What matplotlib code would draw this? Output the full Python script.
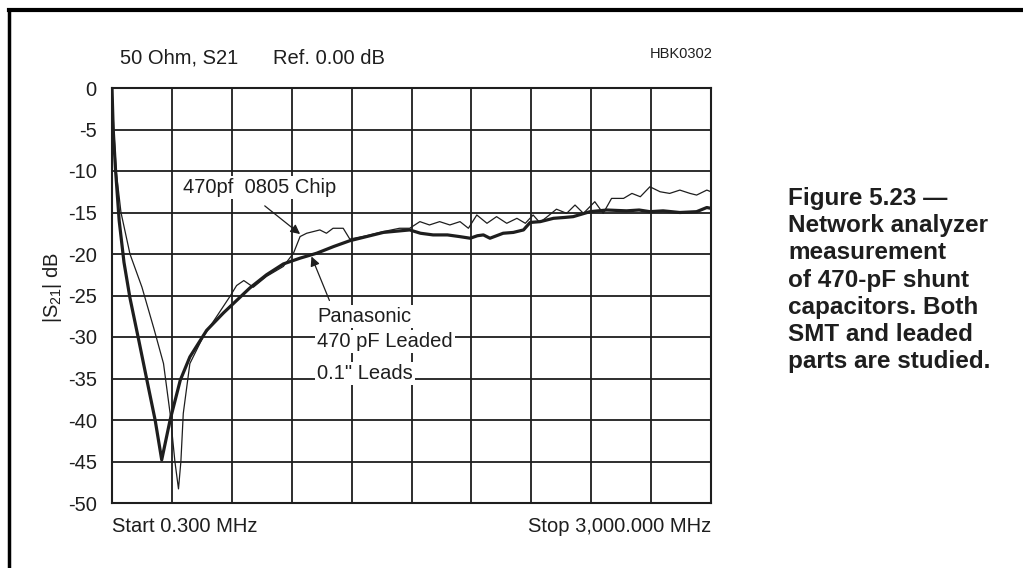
import numpy as np
import matplotlib
matplotlib.use("Agg")
import matplotlib.pyplot as plt
from matplotlib.lines import Line2D

plt.rcParams['font.family'] = ['Liberation Sans', 'DejaVu Sans']
plt.rcParams['mathtext.fontset'] = 'custom'
plt.rcParams['mathtext.rm'] = 'Liberation Sans'
plt.rcParams['mathtext.it'] = 'Liberation Sans'

# ---------------- data (frequency in MHz, |S21| in dB) ----------------
leaded_div = [0, 0.02, 0.06, 0.12, 0.2, 0.3, 0.45, 0.6, 0.72, 0.83, 0.97, 1.14, 1.3,
              1.58, 1.86, 2.3, 2.58, 2.86, 3.14, 3.42, 3.7, 3.97, 4.25, 4.53, 4.97,
              5.15, 5.36, 5.6, 5.8, 5.98, 6.1, 6.2, 6.31, 6.42, 6.53, 6.7, 6.87, 6.98,
              7.15, 7.37, 7.55, 7.7, 7.98, 8.26, 8.59, 8.8, 8.98, 9.2, 9.48, 9.76, 9.93, 10]
leaded_db = [0, -5, -10, -16, -21, -25.3, -30.5, -35.8, -40, -44.8, -40, -35.2, -32.4,
             -29.2, -27.1, -24.1, -22.5, -21.2, -20.5, -19.9, -19.1, -18.4, -17.9, -17.4, -17.1,
             -17.5, -17.7, -17.7, -17.9, -18.1, -17.8, -17.7, -18.1, -17.8, -17.5, -17.4, -17.1, -16.2,
             -16.1, -15.7, -15.6, -15.5, -14.9, -14.7, -14.8, -14.7, -14.9, -14.8, -15.0, -14.9, -14.4, -14.5]

chip_div = [0, 0.03, 0.07, 0.15, 0.3, 0.5, 0.7, 0.86, 0.97, 1.05, 1.11, 1.15, 1.19, 1.3,
            1.52, 1.75, 1.97, 2.08, 2.2, 2.36, 2.58, 2.86, 3.03, 3.14, 3.25, 3.36, 3.47,
            3.58, 3.69, 3.86, 3.97, 4.25, 4.53, 4.8, 4.97, 5.14, 5.3, 5.47, 5.64, 5.81,
            5.95, 6.09, 6.26, 6.42, 6.59, 6.76, 6.9, 7.03, 7.14, 7.25, 7.42, 7.59, 7.73,
            7.87, 8.06, 8.2, 8.34, 8.54, 8.68, 8.82, 8.98, 9.15, 9.31, 9.48, 9.65, 9.76, 9.93, 10]
chip_db = [0, -5, -10, -15, -20, -24, -29, -33.2, -39.2, -45, -48.3, -45, -39.2, -33.2,
           -30, -27.5, -25.1, -23.8, -23.2, -24, -22.7, -21.5, -19.9, -17.9, -17.5, -17.3, -17.1,
           -17.5, -16.9, -16.9, -18.2, -17.8, -17.3, -16.9, -16.9, -16.1, -16.5, -16.1, -16.5, -16.1,
           -16.9, -15.3, -16.3, -15.5, -16.3, -15.7, -16.3, -15.3, -16.2, -15.6, -14.6, -15.1, -14.1,
           -15.1, -13.7, -15.1, -13.3, -13.3, -12.7, -13.1, -11.9, -12.5, -12.7, -12.3, -12.7, -12.9, -12.3, -12.5]

MHZ_PER_DIV = 300.0
leaded_f = np.array(leaded_div) * MHZ_PER_DIV
chip_f = np.array(chip_div) * MHZ_PER_DIV

ytick_vals = [0, -5, -10, -15, -20, -25, -30, -35, -40, -45, -50]
ytick_labels = ['0', '-5', '-10', '-15', '-20', '-25', '-30', '-35', '-40', '-45', '-50']

ink = '#1e1e1e'
FS = 14.5

fig = plt.figure(figsize=(10.23, 5.68), dpi=100)
ax = fig.add_axes([112/1023, 1 - 503/568, (711-112)/1023, (503-88)/568])

ax.plot(chip_f, chip_db, color=ink, lw=0.9, zorder=3)
ax.plot(leaded_f, leaded_db, color=ink, lw=2.3, zorder=4, solid_joinstyle='round')

ax.set_xlim(0, 3000)
ax.set_ylim(-50, 0)
ax.set_xticks(np.arange(0, 3001, 300))
ax.set_xticklabels([])
ax.set_yticks(ytick_vals)
ax.set_yticklabels(ytick_labels, fontsize=FS, color=ink)
ax.tick_params(axis='both', length=0, pad=11)
ax.grid(True, color=ink, lw=1.3, zorder=1)
ax.set_axisbelow(True)
for s in ax.spines.values():
    s.set_color(ink)
    s.set_linewidth(1.5)

# annotations
box = dict(facecolor='white', edgecolor='none', pad=1.5)
ax.text(1.19*MHZ_PER_DIV, -12.0, '470pf  0805 Chip', fontsize=FS, color=ink,
        ha='left', va='center', bbox=box, zorder=5)
ax.annotate('', xy=(3.14*MHZ_PER_DIV, -17.6), xytext=(2.55*MHZ_PER_DIV, -14.2),
            arrowprops=dict(arrowstyle='-|>', color=ink, lw=0.9, mutation_scale=14,
                            shrinkA=0, shrinkB=0), zorder=6)
ax.text(3.43*MHZ_PER_DIV, -27.5, 'Panasonic', fontsize=FS, color=ink,
        ha='left', va='center', bbox=box, zorder=5)
ax.text(3.43*MHZ_PER_DIV, -30.6, '470 pF Leaded', fontsize=FS, color=ink,
        ha='left', va='center', bbox=box, zorder=5)
ax.text(3.43*MHZ_PER_DIV, -34.4, '0.1" Leads', fontsize=FS, color=ink,
        ha='left', va='center', bbox=box, zorder=5)
ax.annotate('', xy=(3.33*MHZ_PER_DIV, -20.3), xytext=(3.63*MHZ_PER_DIV, -25.6),
            arrowprops=dict(arrowstyle='-|>', color=ink, lw=0.9, mutation_scale=14,
                            shrinkA=0, shrinkB=0), zorder=6)

# figure-level texts
fig.text(120/1023, 1 - 58/568, '50 Ohm, S21', fontsize=FS, color=ink, ha='left', va='center')
fig.text(273/1023, 1 - 58/568, 'Ref. 0.00 dB', fontsize=FS, color=ink, ha='left', va='center')
fig.text(713/1023, 1 - 54/568, 'HBK0302', fontsize=10.5, color=ink, ha='right', va='center')
fig.text(112/1023, 1 - 527/568, 'Start 0.300 MHz', fontsize=FS, color=ink, ha='left', va='center')
fig.text(711/1023, 1 - 527/568, 'Stop 3,000.000 MHz', fontsize=FS, color=ink, ha='right', va='center')
fig.text(53/1023, 1 - 287/568, r'$|S_{21}|$ dB', fontsize=FS, color=ink, rotation=90,
         ha='center', va='center')

caption = ('Figure 5.23 \u2014\nNetwork analyzer\nmeasurement\nof 470-pF shunt\n'
           'capacitors. Both\nSMT and leaded\nparts are studied.')
fig.text(788/1023, 1 - 280/568, caption, fontsize=17.5, fontweight='bold', color=ink,
         ha='left', va='center', linespacing=1.24)

# outer frame (top and left edges)
fig.add_artist(Line2D([9/1023, 1], [1 - 10/568, 1 - 10/568], transform=fig.transFigure,
                      color='black', lw=3))
fig.add_artist(Line2D([9/1023, 9/1023], [0, 1 - 10/568], transform=fig.transFigure,
                      color='black', lw=2.5))

fig.savefig('out.png', dpi=100, facecolor='white')
